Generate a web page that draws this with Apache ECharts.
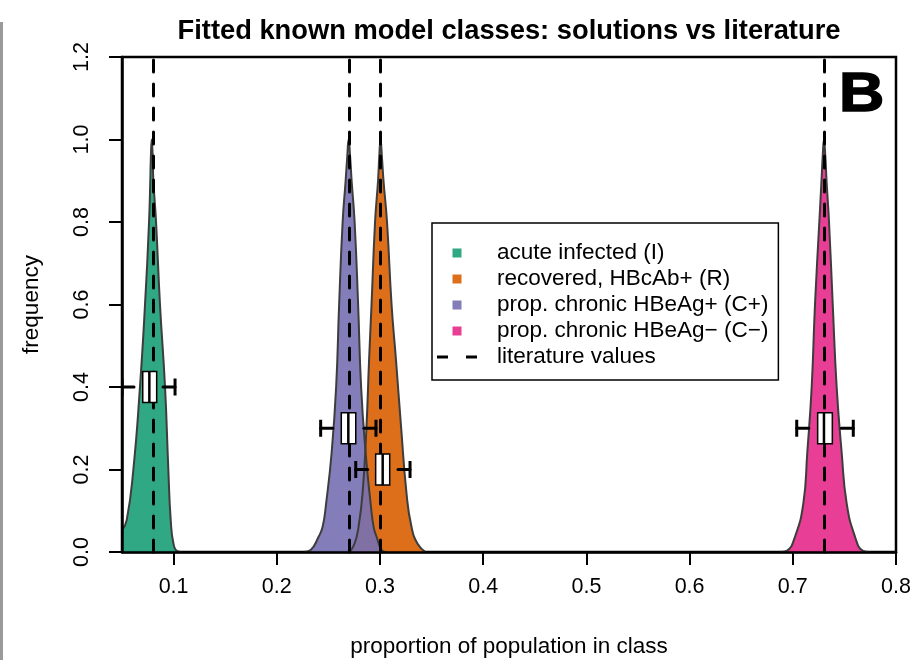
<!DOCTYPE html>
<html>
<head>
<meta charset="utf-8">
<script src="https://cdn.jsdelivr.net/npm/echarts@6/dist/echarts.min.js"></script>
<style>
html, body { margin: 0; padding: 0; background: #fff; }
#chart { width: 915px; height: 660px; }
</style>
</head>
<body>
<div id="chart"></div>
<script>
// Class names, in legend order
const classNames = [
  'acute infected (I)',
  'recovered, HBcAb+ (R)',
  'prop. chronic HBeAg+ (C+)',
  'prop. chronic HBeAg\u2212 (C\u2212)'
];
const classColors = [
  'rgba(27,158,119,0.9)',
  'rgba(217,95,2,0.9)',
  'rgba(117,112,179,0.9)',
  'rgba(231,41,138,0.9)'
];

// Scaled density curves [proportion, frequency]
const densityI = [
  [0.0500, 0.053], [0.0546, 0.078], [0.0610, 0.200], [0.0674, 0.400],
  [0.0723, 0.600], [0.0762, 0.800], [0.0774, 0.900], [0.0780, 0.960],
  [0.0788, 1.000], [0.0797, 0.960], [0.0804, 0.900], [0.0830, 0.800],
  [0.0868, 0.600], [0.0917, 0.400], [0.0949, 0.200], [0.0972, 0.078],
  [0.0999, 0.020], [0.1035, 0.002], [0.1080, 0.000]
];
const densityR = [
  [0.2705, 0.000], [0.2753, 0.020], [0.2792, 0.061], [0.2831, 0.142],
  [0.2869, 0.304], [0.2894, 0.465], [0.2918, 0.600], [0.2952, 0.800],
  [0.2981, 0.900], [0.2993, 0.960], [0.3005, 1.000], [0.3018, 0.960],
  [0.3034, 0.900], [0.3068, 0.800], [0.3112, 0.600], [0.3155, 0.465],
  [0.3204, 0.304], [0.3257, 0.142], [0.3305, 0.061], [0.3364, 0.020],
  [0.3441, 0.000]
];
const densityCplus = [
  [0.2260, 0.000], [0.2328, 0.005], [0.2405, 0.037], [0.2444, 0.061],
  [0.2478, 0.118], [0.2531, 0.240], [0.2575, 0.400], [0.2604, 0.600],
  [0.2638, 0.800], [0.2667, 0.900], [0.2683, 0.960], [0.2696, 1.000],
  [0.2710, 0.960], [0.2725, 0.900], [0.2754, 0.800], [0.2788, 0.600],
  [0.2817, 0.400], [0.2861, 0.240], [0.2909, 0.118], [0.2938, 0.061],
  [0.2967, 0.037], [0.3016, 0.005], [0.3064, 0.000]
];
const densityCminus = [
  [0.6876, 0.000], [0.6941, 0.003], [0.7021, 0.037], [0.7102, 0.118],
  [0.7140, 0.240], [0.7183, 0.400], [0.7215, 0.600], [0.7257, 0.800],
  [0.7278, 0.900], [0.7290, 0.960], [0.7302, 1.000], [0.7315, 0.960],
  [0.7327, 0.900], [0.7351, 0.800], [0.7387, 0.600], [0.7425, 0.400],
  [0.7474, 0.240], [0.7522, 0.118], [0.7603, 0.037], [0.7680, 0.003],
  [0.7748, 0.000]
];

// Published values for each class
const literatureValues = [0.08, 0.30, 0.27, 0.73];

// Box summaries: [height, lower whisker, Q1, median, Q3, upper whisker]
const boxI      = [0.4, 0.0500, 0.0701, 0.0765, 0.0836, 0.1014];
const boxR      = [0.2, 0.2765, 0.2958, 0.3026, 0.3094, 0.3291];
const boxCplus  = [0.3, 0.2425, 0.2625, 0.2693, 0.2765, 0.2961];
const boxCminus = [0.3, 0.7038, 0.7241, 0.7302, 0.7383, 0.7586];

// Axis ticks
const xTicks = [0.1, 0.2, 0.3, 0.4, 0.5, 0.6, 0.7, 0.8];
const yTicks = [0.0, 0.2, 0.4, 0.6, 0.8, 1.0, 1.2];

const FONT = '"Liberation Sans", Arial, Helvetica, sans-serif';
const densities = [densityI, densityR, densityCplus, densityCminus];
const squareIcon = 'path://M0 0H10V10H0Z';
const dashIcon = 'path://M0 0H11V3H0Z M29 0H40V3H29Z';

const chart = echarts.init(document.getElementById('chart'), null, { renderer: 'canvas' });

function renderBox(params, api) {
  const h = api.value(0);
  const lo = api.coord([api.value(1), h]);
  const q1 = api.coord([api.value(2), h]);
  const md = api.coord([api.value(3), h]);
  const q3 = api.coord([api.value(4), h]);
  const hi = api.coord([api.value(5), h]);
  const cy = lo[1];
  const bh = 15.5;   // half box height, px
  const sh = 8.5;    // half staple height, px
  const whisker = { stroke: '#000', lineWidth: 3, lineDash: [12, 12], lineCap: 'round' };
  const staple = { stroke: '#000', lineWidth: 3 };
  return {
    type: 'group',
    children: [
      { type: 'line', shape: { x1: lo[0], y1: cy, x2: q1[0], y2: cy }, style: whisker },
      { type: 'line', shape: { x1: hi[0], y1: cy, x2: q3[0], y2: cy }, style: whisker },
      { type: 'line', shape: { x1: lo[0], y1: cy - sh, x2: lo[0], y2: cy + sh }, style: staple },
      { type: 'line', shape: { x1: hi[0], y1: cy - sh, x2: hi[0], y2: cy + sh }, style: staple },
      { type: 'rect', shape: { x: q1[0], y: cy - bh, width: q3[0] - q1[0], height: 2 * bh },
        style: { fill: '#fff', stroke: '#000', lineWidth: 1.5 } },
      { type: 'line', shape: { x1: md[0], y1: cy - bh, x2: md[0], y2: cy + bh },
        style: { stroke: '#000', lineWidth: 2.5 } }
    ]
  };
}

const densitySeries = classNames.map((name, i) => ({
  name: name,
  type: 'line',
  data: densities[i],
  symbol: 'none',
  smooth: 0.5,
  clip: true,
  lineStyle: { color: '#3d3d3d', width: 2 },
  itemStyle: { color: classColors[i] },
  areaStyle: { color: classColors[i], opacity: 1, origin: 'start' },
  z: 2
}));

const option = {
  animation: false,
  backgroundColor: '#fff',
  title: {
    text: 'Fitted known model classes: solutions vs literature',
    left: 509,
    top: 18,
    padding: 0,
    textAlign: 'center',
    textStyle: { fontFamily: FONT, fontWeight: 'bold', fontSize: 27.3, color: '#000' }
  },
  grid: {
    left: 122, right: 19, top: 57, bottom: 108,
    show: true, borderColor: '#000', borderWidth: 2.5,
    containLabel: false, outerBoundsMode: 'none'
  },
  legend: {
    left: 432, top: 223, orient: 'vertical',
    padding: [17, 10, 10, 5],
    itemGap: 0,
    itemWidth: 40, itemHeight: 9,
    borderColor: '#000', borderWidth: 1.5, backgroundColor: '#fff',
    selectedMode: false,
    textStyle: { fontFamily: FONT, fontSize: 22.5, color: '#000', lineHeight: 26, padding: [0, 0, 0, 15] },
    itemStyle: { borderWidth: 0 },
    data: classNames.map(n => ({ name: n, icon: squareIcon }))
      .concat([{ name: 'literature values', icon: dashIcon, itemStyle: { color: '#000' } }])
  },
  xAxis: {
    type: 'value', min: 0.05, max: 0.8,
    z: 5,
    name: 'proportion of population in class',
    nameLocation: 'middle', nameGap: 83,
    nameTextStyle: { fontFamily: FONT, fontSize: 22.5, color: '#000' },
    axisLine: { show: true, onZero: false, lineStyle: { color: '#000', width: 2.5 } },
    axisTick: { show: true, length: 13, lineStyle: { color: '#000', width: 2 }, customValues: xTicks },
    axisLabel: { fontFamily: FONT, fontSize: 21.5, color: '#000', margin: 24, customValues: xTicks,
      formatter: v => v.toFixed(1) },
    splitLine: { show: false }
  },
  yAxis: {
    type: 'value', min: 0, max: 1.2, interval: 0.2,
    z: 5,
    name: 'frequency',
    nameLocation: 'middle', nameGap: 79, nameRotate: 90,
    nameTextStyle: { fontFamily: FONT, fontSize: 22.5, color: '#000' },
    axisLine: { show: true, onZero: false, lineStyle: { color: '#000', width: 2.5 } },
    axisTick: { show: true, length: 13, lineStyle: { color: '#000', width: 2 }, customValues: yTicks },
    axisLabel: { fontFamily: FONT, fontSize: 21.5, color: '#000', margin: 29, rotate: 90,
      customValues: yTicks, formatter: v => v.toFixed(1) },
    splitLine: { show: false }
  },
  series: densitySeries.concat([
    {
      name: 'literature values',
      type: 'line',
      data: [],
      symbol: 'none',
      lineStyle: { color: '#000', width: 3, type: [12, 12], cap: 'round' },
      itemStyle: { color: '#000' },
      markLine: {
        silent: true,
        symbol: 'none',
        z: 3,
        label: { show: false },
        lineStyle: { color: '#000', width: 3, type: [12, 12], cap: 'round' },
        data: literatureValues.map(v => ({ xAxis: v }))
      }
    },
    {
      name: 'boxes',
      type: 'custom',
      renderItem: renderBox,
      clip: true,
      z: 10,
      encode: { x: [1, 2, 3, 4, 5], y: 0 },
      data: [boxI, boxR, boxCplus, boxCminus]
    }
  ]),
  graphic: [
    { type: 'rect', left: 0, top: 22, shape: { width: 3, height: 638 }, style: { fill: '#9a9a9a' } },
    { type: 'text', x: 839, y: 68, scaleX: 1.12,
      style: { text: 'B', fill: '#000', stroke: '#000', lineWidth: 1.5,
        font: 'bold 56px ' + FONT, textAlign: 'left', textVerticalAlign: 'top' } }
  ]
};

chart.setOption(option);
</script>
</body>
</html>
